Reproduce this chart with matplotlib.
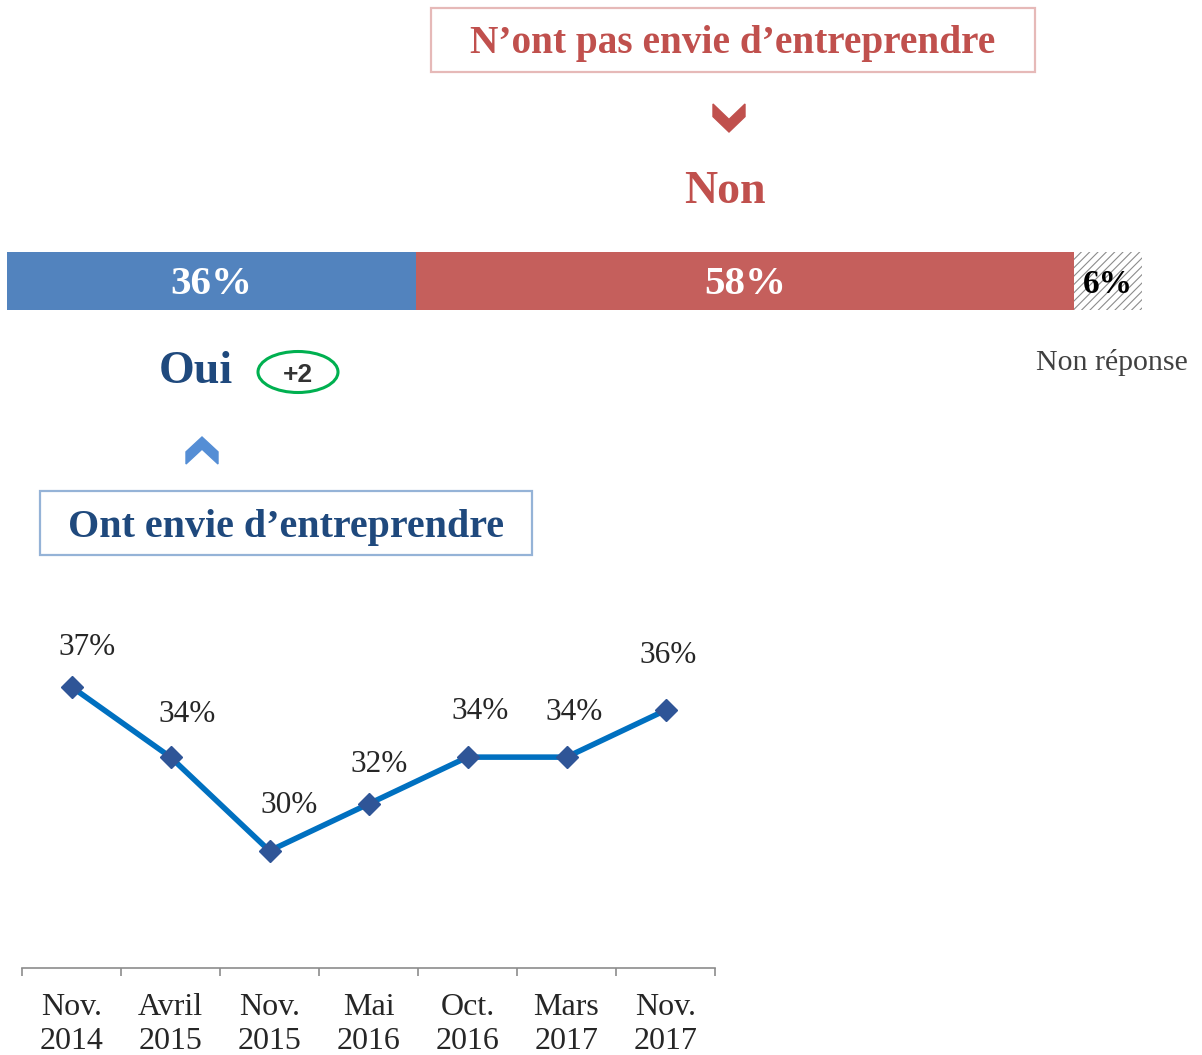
import matplotlib.pyplot as plt
from matplotlib.patches import Rectangle, Ellipse, Polygon
from matplotlib.ticker import FixedLocator

# Data
bar_labels = ['Oui', 'Non', 'Non réponse']
bar_values = [36, 58, 6]
periods = ['Nov.\n2014', 'Avril\n2015', 'Nov.\n2015', 'Mai\n2016',
           'Oct.\n2016', 'Mars\n2017', 'Nov.\n2017']
oui_trend = [37, 34, 30, 32, 34, 34, 36]
evolution = '+2'

# label offsets (pixels) for the line values
label_dx = [16, 17, 20, 11, 13, 8, 3]
label_dy = [32, 35, 38, 32, 38, 37, 47]

W, H = 1202, 1055
SERIF = 'Liberation Serif'
RED = '#C0504D'
BAR_RED = '#C55F5C'
BLUE = '#5283BE'
NAVY = '#1F497D'

plt.rcParams['hatch.linewidth'] = 0.8

fig = plt.figure(figsize=(W / 100, H / 100), dpi=100)


def fx(x):
    return x / W


def fy(y):
    return 1 - y / H


def chevron(cx, top, w, h, color, down=True):
    pts = [(0, 0), (0.5, 0.55), (1, 0), (1, 0.45), (0.5, 1), (0, 0.45)]
    if not down:
        pts = [(px, 1 - py) for px, py in pts]
    xy = [(fx(cx - w / 2 + px * w), fy(top + py * h)) for px, py in pts]
    fig.patches.append(Polygon(xy, closed=True, color=color,
                               transform=fig.transFigure))


# Stacked bar
axb = fig.add_axes([fx(7), fy(310), fx(1142) - fx(7), fy(252) - fy(310)])
left = 0
colors = [BLUE, BAR_RED, 'white']
for i, v in enumerate(bar_values):
    if i == 2:
        axb.barh(0, v, left=left, height=1, color='white', hatch='////',
                 edgecolor='#8C8C8C', linewidth=0)
        axb.text(left + v / 2, -0.2, f'{v}%', ha='center', va='baseline',
                 fontsize=24, fontweight='bold', color='black', family=SERIF)
    else:
        axb.barh(0, v, left=left, height=1, color=colors[i])
        axb.text(left + v / 2, -0.23, f'{v}%', ha='center', va='baseline',
                 fontsize=29.5, fontweight='bold', color='white', family=SERIF)
    left += v
axb.set_xlim(0, 100)
axb.set_ylim(-0.5, 0.5)
axb.axis('off')

# Top box (Non)
fig.patches.append(Rectangle((fx(431), fy(72)), fx(1035) - fx(431), fy(8) - fy(72),
                             fill=False, edgecolor='#E6B9B8', linewidth=1.6,
                             transform=fig.transFigure))
fig.text(fx(733), fy(53), 'N’ont pas envie d’entreprendre', ha='center',
         va='baseline', fontsize=28.3, fontweight='bold', color=RED, family=SERIF)
chevron(729, 104, 32, 28, RED, down=True)
fig.text(fx(725), fy(203), bar_labels[1], ha='center', va='baseline',
         fontsize=33, fontweight='bold', color=RED, family=SERIF)

# Oui side
fig.text(fx(196), fy(383), bar_labels[0], ha='center', va='baseline',
         fontsize=33, fontweight='bold', color=NAVY, family=SERIF)
fig.patches.append(Ellipse((fx(298), fy(372)), fx(80), 41 / H, fill=False,
                           edgecolor='#00B050', linewidth=2.2,
                           transform=fig.transFigure))
fig.text(fx(298), fy(382), evolution, ha='center', va='baseline',
         fontsize=19, fontweight='bold', color='#333333',
         family='Liberation Sans')
chevron(202, 437, 32, 27, '#558ED5', down=False)
fig.patches.append(Rectangle((fx(40), fy(555)), fx(532) - fx(40), fy(491) - fy(555),
                             fill=False, edgecolor='#95B3D7', linewidth=1.6,
                             transform=fig.transFigure))
fig.text(fx(286), fy(537), 'Ont envie d’entreprendre', ha='center',
         va='baseline', fontsize=28.8, fontweight='bold', color=NAVY, family=SERIF)

fig.text(fx(1112), fy(370), bar_labels[2], ha='center', va='baseline',
         fontsize=21.5, color='#404040', family=SERIF)

# Line chart
ylo, yhi = 25, 40
px_per = 23.43
axl = fig.add_axes([fx(22), fy(968), fx(715) - fx(22), (yhi - ylo) * px_per / H])
x = list(range(len(periods)))
axl.plot(x, oui_trend, color='#0070C0', linewidth=4, marker='D',
         markersize=11, markerfacecolor='#2F5597', markeredgecolor='#2F5597')
for i, v in enumerate(oui_trend):
    axl.annotate(f'{v}%', (i, v), xytext=(label_dx[i], label_dy[i]),
                 textcoords='offset pixels', ha='center', va='baseline',
                 fontsize=22.5, color='#262626', family=SERIF)
axl.set_xlim(-0.5, len(periods) - 0.5)
axl.set_ylim(ylo, yhi)
for s in ['top', 'right', 'left']:
    axl.spines[s].set_visible(False)
axl.spines['bottom'].set_color('#8C8C8C')
axl.spines['bottom'].set_linewidth(1.2)
axl.set_yticks([])
axl.set_xticks(x)
axl.set_xticklabels(periods, fontsize=23, family=SERIF, color='#262626',
                    linespacing=1.23)
axl.xaxis.set_minor_locator(FixedLocator([i - 0.5 for i in range(len(periods) + 1)]))
axl.tick_params(axis='x', which='major', length=0, pad=18)
axl.tick_params(axis='x', which='minor', length=6, width=1.2, color='#8C8C8C')
axl.patch.set_alpha(0)

fig.savefig('out.png', dpi=100)
